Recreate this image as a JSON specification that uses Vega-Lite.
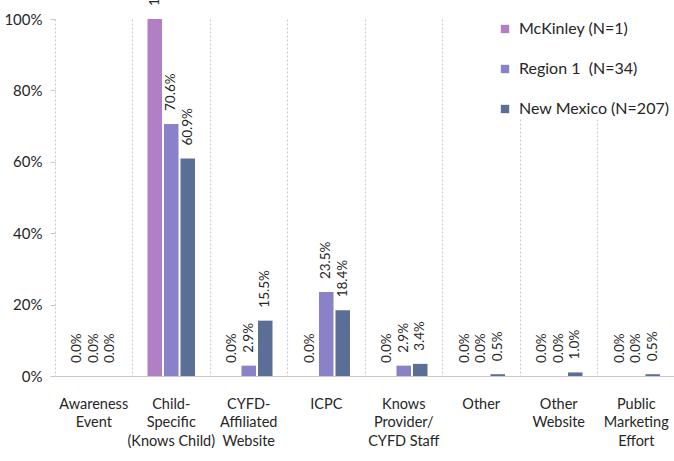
{
  "$schema": "https://vega.github.io/schema/vega-lite/v6.json",
  "width": 620,
  "height": 357,
  "autosize": "none",
  "padding": {"left": 55, "top": 19, "right": 0, "bottom": 85},
  "background": "white",
  "config": {
    "view": {"stroke": null},
    "font": "Lato, sans-serif"
  },
  "data": {
    "values": [
      {"category": "Awareness Event", "series": "McKinley (N=1)", "value": 0},
      {"category": "Awareness Event", "series": "Region 1\u00a0 (N=34)", "value": 0},
      {"category": "Awareness Event", "series": "New Mexico (N=207)", "value": 0},
      {"category": "Child-Specific (Knows Child)", "series": "McKinley (N=1)", "value": 1.0},
      {"category": "Child-Specific (Knows Child)", "series": "Region 1\u00a0 (N=34)", "value": 0.706},
      {"category": "Child-Specific (Knows Child)", "series": "New Mexico (N=207)", "value": 0.609},
      {"category": "CYFD-Affiliated Website", "series": "McKinley (N=1)", "value": 0},
      {"category": "CYFD-Affiliated Website", "series": "Region 1\u00a0 (N=34)", "value": 0.029},
      {"category": "CYFD-Affiliated Website", "series": "New Mexico (N=207)", "value": 0.155},
      {"category": "ICPC", "series": "McKinley (N=1)", "value": 0},
      {"category": "ICPC", "series": "Region 1\u00a0 (N=34)", "value": 0.235},
      {"category": "ICPC", "series": "New Mexico (N=207)", "value": 0.184},
      {"category": "Knows Provider/CYFD Staff", "series": "McKinley (N=1)", "value": 0},
      {"category": "Knows Provider/CYFD Staff", "series": "Region 1\u00a0 (N=34)", "value": 0.029},
      {"category": "Knows Provider/CYFD Staff", "series": "New Mexico (N=207)", "value": 0.034},
      {"category": "Other", "series": "McKinley (N=1)", "value": 0},
      {"category": "Other", "series": "Region 1\u00a0 (N=34)", "value": 0},
      {"category": "Other", "series": "New Mexico (N=207)", "value": 0.005},
      {"category": "Other Website", "series": "McKinley (N=1)", "value": 0},
      {"category": "Other Website", "series": "Region 1\u00a0 (N=34)", "value": 0},
      {"category": "Other Website", "series": "New Mexico (N=207)", "value": 0.010},
      {"category": "Public Marketing Effort", "series": "McKinley (N=1)", "value": 0},
      {"category": "Public Marketing Effort", "series": "Region 1\u00a0 (N=34)", "value": 0},
      {"category": "Public Marketing Effort", "series": "New Mexico (N=207)", "value": 0.005}
    ]
  },
  "encoding": {
    "x": {
      "field": "category",
      "type": "nominal",
      "sort": null,
      "scale": {"paddingInner": 0, "paddingOuter": 0},
      "axis": {
        "title": null,
        "labelAngle": 0,
        "bandPosition": 0,
        "grid": true,
        "gridDash": [2, 2],
        "gridColor": "#c8c8c8",
        "gridWidth": 1,
        "ticks": false,
        "domain": true,
        "domainColor": "#c8c8c8",
        "labelPadding": 28,
        "labelFontSize": 14.5,
        "labelColor": "#262626",
        "labelLineHeight": 18.5,
        "labelBaseline": "middle",
        "labelExpr": "datum.value == 'Awareness Event' ? ['Awareness','Event'] : datum.value == 'Child-Specific (Knows Child)' ? ['Child-','Specific','(Knows Child)'] : datum.value == 'CYFD-Affiliated Website' ? ['CYFD-','Affiliated','Website'] : datum.value == 'Knows Provider/CYFD Staff' ? ['Knows','Provider/','CYFD Staff'] : datum.value == 'Other Website' ? ['Other','Website'] : datum.value == 'Public Marketing Effort' ? ['Public','Marketing','Effort'] : datum.value"
      }
    },
    "xOffset": {
      "field": "series",
      "type": "nominal",
      "sort": null,
      "scale": {"paddingInner": 0.12, "paddingOuter": 0.91}
    },
    "y": {
      "field": "value",
      "type": "quantitative",
      "scale": {"domain": [0, 1]},
      "axis": {
        "title": null,
        "format": ".0%",
        "values": [0, 0.2, 0.4, 0.6, 0.8, 1.0],
        "grid": false,
        "domain": false,
        "ticks": true,
        "tickSize": 5,
        "tickColor": "#c8c8c8",
        "labelFontSize": 15,
        "labelColor": "#262626",
        "labelPadding": 8
      }
    }
  },
  "layer": [
    {
      "mark": {"type": "bar"},
      "encoding": {
        "color": {
          "field": "series",
          "type": "nominal",
          "sort": null,
          "scale": {"range": ["#B07FC4", "#8A82C8", "#5B6E96"]},
          "legend": {
            "title": null,
            "orient": "none",
            "legendX": 440,
            "legendY": 0,
            "symbolType": "square",
            "symbolSize": 70,
            "symbolStrokeWidth": 0,
            "labelFontSize": 16,
            "labelColor": "#262626",
            "rowPadding": 24,
            "labelOffset": 6,
            "labelLimit": 300,
            "fillColor": "white",
            "padding": 2
          }
        }
      }
    },
    {
      "mark": {
        "type": "text",
        "angle": -90,
        "align": "left",
        "baseline": "middle",
        "dx": 13,
        "fontSize": 13.5,
        "color": "#262626"
      },
      "encoding": {
        "text": {"field": "value", "type": "quantitative", "format": ".1%"}
      }
    }
  ]
}
